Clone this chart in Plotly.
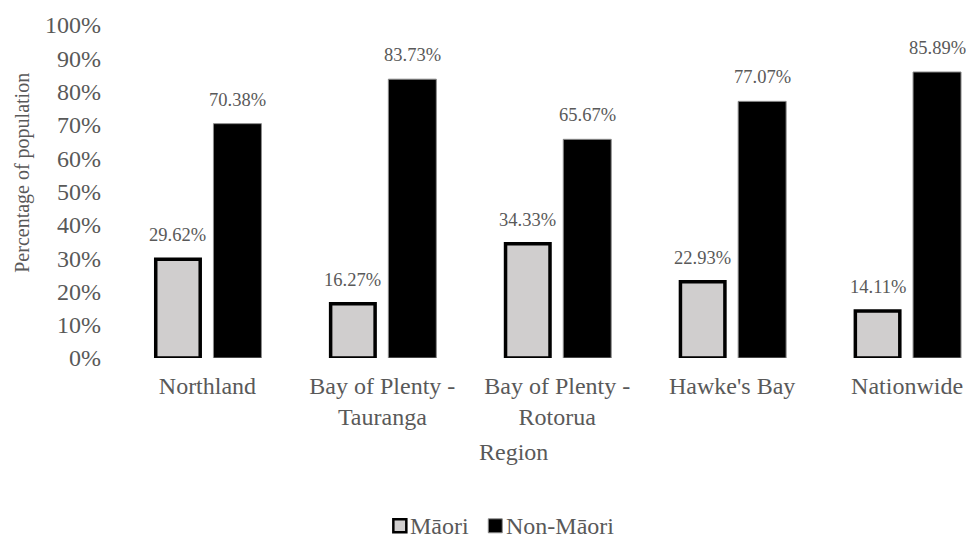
import plotly.graph_objects as go

# Population share by ethnicity for each region
regions = ["Northland", "Bay of Plenty -<br>Tauranga", "Bay of Plenty -<br>Rotorua",
           "Hawke's Bay", "Nationwide"]
series_names = ["Māori", "Non-Māori"]
maori = [29.62, 16.27, 34.33, 22.93, 14.11]
non_maori = [70.38, 83.73, 65.67, 77.07, 85.89]
y_ticks = list(range(0, 101, 10))
y_tick_labels = [f"{v}%" for v in y_ticks]

FONT = "Liberation Serif, Times New Roman, serif"
TEXT = "#595959"
GRAY_FILL = "#D0CECE"

W, H = 966, 539
L, T = 119.5, 24.6
PLOT_BOTTOM = 358
R = 0
B = H - PLOT_BOTTOM
PW = W - L - R
PH = PLOT_BOTTOM - T


def px_x(px):
    """Horizontal pixel position -> paper fraction."""
    return (px - L) / PW


def px_y(px):
    """Vertical pixel position (from top) -> paper fraction."""
    return (PLOT_BOTTOM - px) / PH


# bar geometry in category units
GRAY_OFF, GRAY_W = -0.2957, 0.2543
BLACK_OFF, BLACK_W = 0.0343, 0.2743

gray_style = dict(color=GRAY_FILL, line=dict(color="#000000", width=3.5))
black_style = dict(color="#000000", line=dict(color="#8c8c8c", width=1))

fig = go.Figure()
fig.add_trace(go.Bar(
    name=series_names[0], x=list(range(len(regions))), y=maori,
    offset=GRAY_OFF, width=GRAY_W, marker=gray_style, hoverinfo="skip",
))
fig.add_trace(go.Bar(
    name=series_names[1], x=list(range(len(regions))), y=non_maori,
    offset=BLACK_OFF, width=BLACK_W, marker=black_style, hoverinfo="skip",
))

# value labels above each bar
for values, off, w in ((maori, GRAY_OFF, GRAY_W), (non_maori, BLACK_OFF, BLACK_W)):
    for i, v in enumerate(values):
        fig.add_annotation(
            x=i + off + w / 2, y=v, xref="x", yref="y",
            text=f"{v:.2f}%", showarrow=False,
            yanchor="bottom", yshift=12,
            font=dict(family=FONT, size=18.5, color=TEXT),
        )

# axis titles
fig.add_annotation(
    x=px_x(22), y=px_y(173), xref="paper", yref="paper",
    text="Percentage of population", textangle=-90, showarrow=False,
    xanchor="center", yanchor="middle",
    font=dict(family=FONT, size=20, color=TEXT),
)
fig.add_annotation(
    x=px_x(513), y=px_y(452), xref="paper", yref="paper",
    text="Region", showarrow=False, xanchor="center", yanchor="middle",
    font=dict(family=FONT, size=24, color=TEXT),
)

# legend: key squares with labels set tight against them
LEG_Y = 526
legend_items = [
    (series_names[0], 393, 406, GRAY_FILL, "#000000", 2.5, 408),
    (series_names[1], 488, 502, "#000000", "#8c8c8c", 1, 504),
]
for name, x0, x1, fill, edge, lw, tx in legend_items:
    half = (x1 - x0) / 2
    fig.add_shape(
        type="rect", xref="paper", yref="paper",
        x0=px_x(x0), x1=px_x(x1), y0=px_y(LEG_Y - half), y1=px_y(LEG_Y + half),
        fillcolor=fill, line=dict(color=edge, width=lw),
    )
    fig.add_annotation(
        x=px_x(tx), y=px_y(LEG_Y), xref="paper", yref="paper",
        text=name, showarrow=False, xanchor="left", yanchor="middle",
        font=dict(family=FONT, size=24, color=TEXT),
    )

fig.update_layout(
    width=W, height=H, autosize=False,
    margin=dict(l=L, r=R, t=T, b=B, pad=0),
    paper_bgcolor="white", plot_bgcolor="white",
    barmode="overlay",
    showlegend=False,
    font=dict(family=FONT, color=TEXT),
)
fig.update_xaxes(
    type="linear", range=[-0.5, 4.337],
    tickmode="array", tickvals=list(range(len(regions))), ticktext=regions,
    showgrid=False, zeroline=False, showline=False, ticks="",
    tickfont=dict(family=FONT, size=24, color=TEXT),
    ticklabelstandoff=11,
)
fig.update_yaxes(
    range=[0, 100], tickmode="array", tickvals=y_ticks, ticktext=y_tick_labels,
    showgrid=False, zeroline=False, showline=False, ticks="",
    tickfont=dict(family=FONT, size=24, color=TEXT),
    ticklabelstandoff=18,
)

fig.write_html("out.html")
